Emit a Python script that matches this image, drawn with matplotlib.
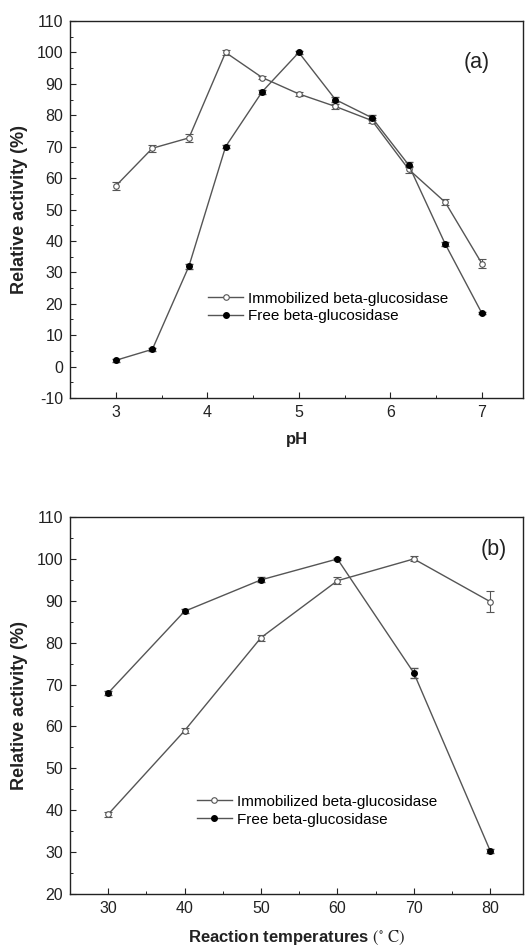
import matplotlib
matplotlib.use('Agg')
from matplotlib import pyplot as plt
from matplotlib.lines import Line2D
from matplotlib.ticker import MultipleLocator

plt.rcParams['font.family'] = ['Liberation Sans', 'DejaVu Sans']
plt.rcParams['axes.unicode_minus'] = False
plt.rcParams['mathtext.fontset'] = 'stix'

# panel (a): pH
ph = [3.0, 3.4, 3.8, 4.2, 4.6, 5.0, 5.4, 5.8, 6.2, 6.6, 7.0]
ph_immob = [57.5, 69.5, 72.8, 100.0, 92.0, 86.8, 82.8, 78.3, 62.8, 52.3, 32.8]
ph_immob_err = [1.3, 1.1, 1.3, 0.8, 0.6, 0.7, 0.7, 0.9, 1.1, 1.0, 1.3]
ph_free = [2.0, 5.5, 32.0, 70.0, 87.5, 100.0, 85.0, 79.2, 64.2, 39.0, 17.0]
ph_free_err = [0.4, 0.5, 0.8, 0.5, 0.7, 0.6, 0.7, 0.8, 0.8, 0.7, 0.4]

# panel (b): temperature
temp = [30, 40, 50, 60, 70, 80]
t_immob = [39.0, 59.0, 81.2, 94.8, 100.0, 89.8]
t_immob_err = [0.6, 0.6, 0.7, 0.9, 0.6, 2.5]
t_free = [68.0, 87.5, 95.0, 100.0, 72.8, 30.3]
t_free_err = [0.5, 0.5, 0.6, 0.3, 1.2, 0.5]

LC = '#555555'
TC = '#222222'
fig = plt.figure(figsize=(5.25, 9.47), dpi=100)
ax1 = fig.add_axes([0.1333, 0.5797, 0.863, 0.3981])
ax2 = fig.add_axes([0.1333, 0.056, 0.863, 0.398])

handles = [
    Line2D([], [], color=LC, lw=1.0, marker='o', ms=4, mfc='white', mec=LC, mew=0.8),
    Line2D([], [], color=LC, lw=1.0, marker='o', ms=4, mfc='black', mec='black'),
]
labels = ['Immobilized beta-glucosidase', 'Free beta-glucosidase']


def draw(ax, x, immob, immob_err, free, free_err):
    ax.errorbar(x, immob, yerr=immob_err, color=LC, lw=1.0, marker='o', ms=4,
                mfc='white', mec=LC, mew=0.8, capsize=3, elinewidth=0.8)
    ax.errorbar(x, free, yerr=free_err, color=LC, lw=1.0, marker='o', ms=4,
                mfc='black', mec='black', capsize=3, elinewidth=0.8)
    for s in ax.spines.values():
        s.set_color(TC)
        s.set_linewidth(1.0)
    ax.tick_params(direction='in', labelsize=11.5, colors=TC, length=4, pad=5)
    ax.tick_params(which='minor', direction='in', length=2.5)
    ax.set_ylabel('Relative activity (%)', fontsize=13, fontweight='bold', color=TC,
                  labelpad=6)


draw(ax1, ph, ph_immob, ph_immob_err, ph_free, ph_free_err)
ax1.set_xlim(2.5, 7.45)
ax1.set_ylim(-10, 110)
ax1.xaxis.set_major_locator(MultipleLocator(1))
ax1.xaxis.set_minor_locator(MultipleLocator(0.5))
ax1.yaxis.set_major_locator(MultipleLocator(10))
ax1.yaxis.set_minor_locator(MultipleLocator(5))
ax1.set_xlabel('pH', fontsize=12, fontweight='bold', color=TC, labelpad=9)
ax1.text(0.897, 0.889, '(a)', transform=ax1.transAxes, fontsize=15.5, color=TC,
         ha='center', va='center')
ax1.legend(handles, labels, loc='center left', bbox_to_anchor=(0.305, 0.24),
           frameon=False, fontsize=11, handlelength=2.3, handletextpad=0.3,
           labelspacing=0.25, borderaxespad=0, borderpad=0)

draw(ax2, temp, t_immob, t_immob_err, t_free, t_free_err)
ax2.set_xlim(25, 84.3)
ax2.set_ylim(20, 110)
ax2.xaxis.set_major_locator(MultipleLocator(10))
ax2.xaxis.set_minor_locator(MultipleLocator(5))
ax2.yaxis.set_major_locator(MultipleLocator(10))
ax2.yaxis.set_minor_locator(MultipleLocator(5))
ax2.set_xlabel('Reaction temperatures $\\mathrm{(^{\\circ}\\ C)}$', fontsize=12,
               fontweight='bold', color=TC, labelpad=9)
ax2.text(0.936, 0.915, '(b)', transform=ax2.transAxes, fontsize=15.5, color=TC,
         ha='center', va='center')
ax2.legend(handles, labels, loc='center left', bbox_to_anchor=(0.28, 0.221),
           frameon=False, fontsize=11, handlelength=2.3, handletextpad=0.3,
           labelspacing=0.25, borderaxespad=0, borderpad=0)

fig.savefig('out.png', dpi=100)
